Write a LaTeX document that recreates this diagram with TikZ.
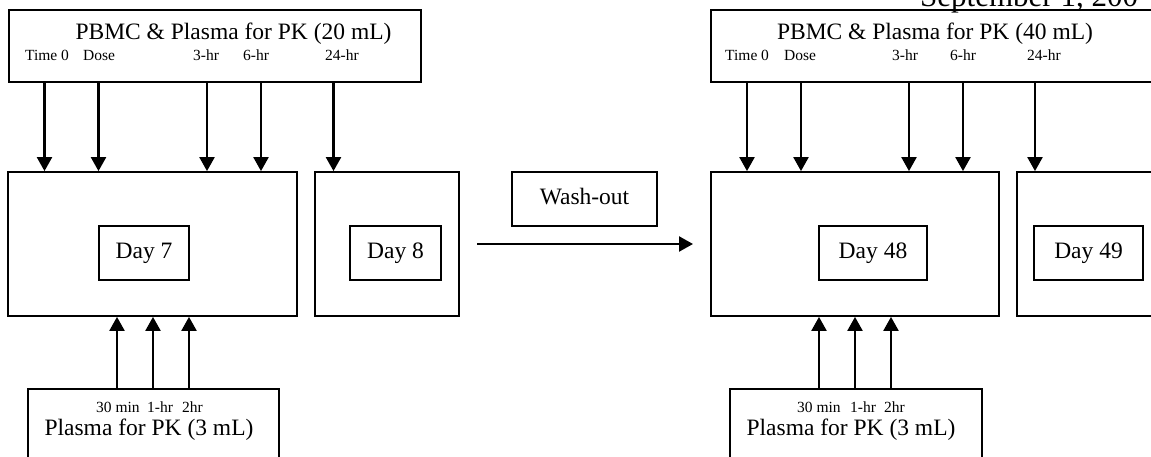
\documentclass[tikz,border=0pt]{standalone}
\usepackage{fontspec}
\setmainfont{Liberation Serif}
\usetikzlibrary{arrows.meta}
\begin{document}
\begin{tikzpicture}[x=1pt,y=-1pt,
  box/.style={draw,line width=1.8pt,inner sep=0pt,
    font=\fontsize{23.5}{28}\selectfont,text height=16pt,text depth=5pt},
  big/.style={inner sep=0pt,anchor=base,font=\fontsize{23.5}{28}\selectfont},
  small/.style={inner sep=0pt,anchor=base west,font=\fontsize{15.5}{18}\selectfont},
  arr/.style={-{Triangle[length=14pt,width=15pt]},line width=2.3pt}]
\clip (0,0) rectangle (1151,457);
\fill[white] (0,0) rectangle (1151,457);
% header (cut off at the top edge)
\node[inner sep=0pt,anchor=base west,font=\fontsize{31}{36}\selectfont] (hdr) at (920,7) {September 1, 200};
% ---------- left period ----------
\node[box,minimum width=412pt,minimum height=72pt] (top1) at (215,46) {};
\node[big] (top1t) at (233.5,40) {PBMC \& Plasma for PK (20 mL)};
\node[small] (l1a) at (25,61) {Time 0};
\node[small] (l1b) at (83,61) {Dose};
\node[small] (l1c) at (193,61) {3-hr};
\node[small] (l1d) at (243,61) {6-hr};
\node[small] (l1e) at (325,61) {24-hr};
\node[box,minimum width=289pt,minimum height=144pt] (d7o) at (152.5,244) {};
\node[box,minimum width=90pt,minimum height=54pt] (d7) at (144,253) {Day 7};
\node[box,minimum width=144pt,minimum height=144pt] (d8o) at (387,244) {};
\node[box,minimum width=91pt,minimum height=54pt] (d8) at (395.5,253) {Day 8};
\node[box,minimum width=251pt,minimum height=82pt,anchor=north west] (b1) at (27,388) {};
\node[small,anchor=base west] (s1a) at (96,412) {30 min};
\node[small,anchor=base west] (s1b) at (147,412) {1-hr};
\node[small,anchor=base west] (s1c) at (182,412) {2hr};
\node[big] (b1t) at (149,435) {Plasma for PK (3 mL)};
% ---------- wash-out ----------
\node[box,minimum width=145pt,minimum height=54pt] (wo) at (584.5,199) {Wash-out};
\coordinate (ws) at (477,244);
\coordinate (we) at (693,244);
\draw[arr] (ws) -- (we);
% ---------- right period ----------
\node[box,minimum width=449pt,minimum height=72pt] (top2) at (935.5,46) {};
\node[big] (top2t) at (935,40) {PBMC \& Plasma for PK (40 mL)};
\node[small] (l2a) at (725,61) {Time 0};
\node[small] (l2b) at (784,61) {Dose};
\node[small] (l2c) at (892,61) {3-hr};
\node[small] (l2d) at (950,61) {6-hr};
\node[small] (l2e) at (1027,61) {24-hr};
\node[box,minimum width=288pt,minimum height=144pt] (d48o) at (855,244) {};
\node[box,minimum width=108pt,minimum height=54pt] (d48) at (873,253) {Day 48};
\node[box,minimum width=144pt,minimum height=144pt] (d49o) at (1089,244) {};
\node[box,minimum width=109pt,minimum height=54pt] (d49) at (1088.5,253) {Day 49};
\node[box,minimum width=252pt,minimum height=82pt,anchor=north west] (b2) at (729,388) {};
\node[small,anchor=base west] (s2a) at (797,412) {30 min};
\node[small,anchor=base west] (s2b) at (850,412) {1-hr};
\node[small,anchor=base west] (s2c) at (884,412) {2hr};
\node[big] (b2t) at (851,435) {Plasma for PK (3 mL)};
% ---------- arrow x positions ----------
\foreach \n/\x in {a1/44.5,a2/98.5,a3/207,a4/261,a6/747,a7/801,a8/909,a9/963,
                   u1/117,u2/153,u3/189,u4/819,u5/855,u6/891}
  \coordinate (\n) at (\x,0);
\coordinate (a5) at (333.5,0);
\coordinate (a10) at (1035,0);
\foreach \c in {a1,a2,a3,a4} \draw[arr] (top1.south -| \c) -- (d7o.north -| \c);
\draw[arr] (top1.south -| a5) -- (d8o.north -| a5);
\foreach \c in {a6,a7,a8,a9} \draw[arr] (top2.south -| \c) -- (d48o.north -| \c);
\draw[arr] (top2.south -| a10) -- (d49o.north -| a10);
\foreach \c in {u1,u2,u3} \draw[arr] (b1.north -| \c) -- (d7o.south -| \c);
\foreach \c in {u4,u5,u6} \draw[arr] (b2.north -| \c) -- (d48o.south -| \c);
\end{tikzpicture}
\end{document}
